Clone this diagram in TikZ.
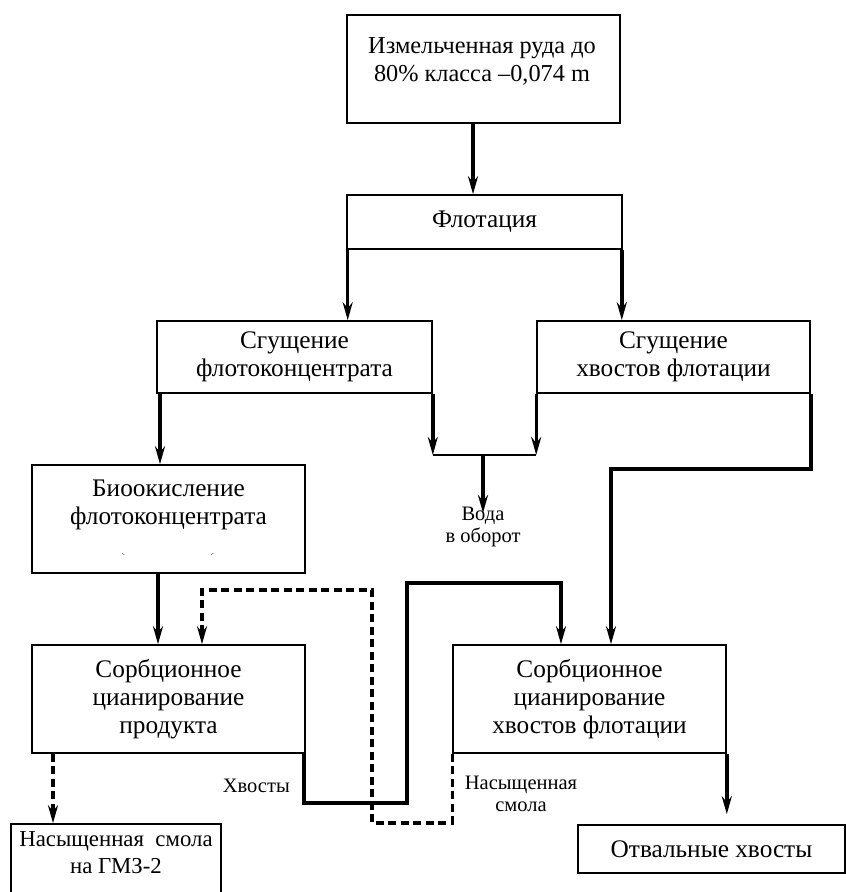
\documentclass[tikz,border=0pt]{standalone}
\usepackage{fontspec}
\setmainfont{Liberation Serif}
\usetikzlibrary{arrows.meta,calc}
\tikzset{
  box/.style={draw, line width=1.6pt, inner sep=0pt, align=center,
    font=\fontsize{25.3}{27.8}\selectfont},
  txt/.style={inner sep=0pt, align=center, font=\fontsize{25.3}{27.8}\selectfont},
  lbl/.style={inner sep=0pt, align=center, font=\fontsize{20.5}{22}\selectfont},
  flow/.style={line width=3.4pt, -{Stealth[length=18pt,width=10pt,inset=6pt]}},
  dflow/.style={flow, dash pattern=on 8pt off 4.5pt},
  thinline/.style={line width=1.6pt}
}
\begin{document}
\begin{tikzpicture}[x=1pt,y=-1pt]
\useasboundingbox (0,0) rectangle (846,892);
% boxes
\node[box, minimum width=273, minimum height=108] (ore) at (483.5,69) {};
\node[txt, font=\fontsize{24.3}{28}\selectfont] (oret) at (482,61) {Измельченная руда до\\80\% класса –0,074 m};
\node[box, minimum width=275, minimum height=54] (flot) at (484.5,222) {Флотация};
\node[box, minimum width=275, minimum height=72] (thc) at (294.5,357) {Сгущение\\флотоконцентрата};
\node[box, minimum width=273, minimum height=72] (tht) at (673.5,357) {Сгущение\\хвостов флотации};
\node[box, minimum width=273, minimum height=108] (bio) at (168.5,519) {};
\node[txt] (biot) at (168.5,505) {Биоокисление\\флотоконцентрата};
\node[box, minimum width=273, minimum height=108] (scp) at (168.5,699) {Сорбционное\\цианирование\\продукта};
\node[box, minimum width=273, minimum height=108] (sct) at (589.5,699) {Сорбционное\\цианирование\\хвостов флотации};
\node[box, minimum width=210, minimum height=70] (resin) at (116,859) {};
\node[txt, font=\fontsize{22.8}{27}\selectfont] (resint) at (116,853) {Насыщенная\ \ смола\\на ГМЗ-2};
\node[box, minimum width=267, minimum height=48] (waste) at (711.5,849) {Отвальные хвосты};
% labels
\node[lbl, anchor=north] (water) at (483,507) {Вода\\в оборот};
\node[lbl, anchor=base east] (tails) at (290,792) {Хвосты};
\node[lbl, anchor=north] (satres) at (521,776) {Насыщенная\\смола};
% tiny marks in the bio box
\draw[line width=0.6pt, gray] (122,553) -- (124.5,555);
\draw[line width=0.6pt, gray] (211,555) -- (213.5,553);
% helper coordinates
\coordinate (xa) at (473,0);
\coordinate (xb) at (160,0);
\coordinate (xc) at (158,0);
\coordinate (xd) at (53,0);
\coordinate (wj) at (483,455);
\coordinate (c1) at (611,469);
\coordinate (d1) at (372,823);
\coordinate (d2) at (202,590);
\coordinate (t1) at (407,803);
\coordinate (t2) at (561,583);
% connectors
\draw[flow] (ore.south -| xa) -- (flot.north -| xa);
\draw[flow] ([xshift=1.5pt]flot.south west) -- ([xshift=1.5pt]flot.south west |- thc.north);
\draw[flow] ([xshift=-1pt]flot.south east) -- ([xshift=-1pt]flot.south east |- tht.north);
\draw[flow] (thc.south -| xb) -- (bio.north -| xb);
\draw[flow] (thc.south east) -- (thc.south east |- wj);
\draw[flow] (tht.south west) -- (tht.south west |- wj);
\draw[thinline] (thc.south east |- wj) -- (tht.south west |- wj);
\draw[flow] (wj) -- ([yshift=-6pt]water.north);
\draw[flow] (tht.south east) |- (c1) -- (c1 |- sct.north);
\draw[flow] (bio.south -| xc) -- (scp.north -| xc);
\draw[dflow] (sct.south west) |- (d1) |- (d2) -- (d2 |- scp.north);
\draw[flow] ([xshift=-2pt]scp.south east) |- (t1) |- (t2) -- (t2 |- sct.north);
\draw[dflow] (scp.south -| xd) -- (resin.north -| xd);
\draw[flow, shorten >=10pt] (sct.south east) -- (sct.south east |- waste.north);
\end{tikzpicture}
\end{document}
